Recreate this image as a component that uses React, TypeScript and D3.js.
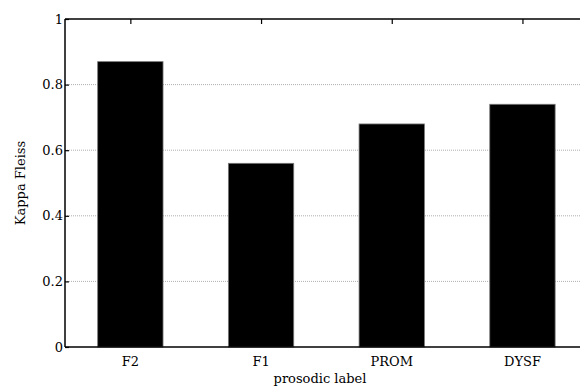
import React, { useRef, useEffect } from 'react';
import * as d3 from 'd3';

const categories = ['F2', 'F1', 'PROM', 'DYSF'];
const kappa = [0.87, 0.56, 0.68, 0.74];
const yTicks = [0, 0.2, 0.4, 0.6, 0.8, 1];

const width = 580;
const height = 390;
const font = '"DejaVu Serif", serif';

const App = () => {
    const svgRef = useRef<SVGSVGElement>(null);

    useEffect(() => {
        const svg = d3.select(svgRef.current);
        svg.selectAll('*').remove();

        const left = 65;
        const top = 19;
        const bottom = 347;
        const step = 130.7;

        // categories sit at 1..4, axis spans 0.5..4.5 (right edge is cut off)
        const xScale = d3.scaleLinear()
            .domain([0.5, 4.5])
            .range([left, left + step * 4]);

        const yScale = d3.scaleLinear()
            .domain([0, 1])
            .range([bottom, top]);

        // dotted grid
        svg.append('g')
            .selectAll('line')
            .data(yTicks.filter(t => t > 0 && t < 1))
            .join('line')
            .attr('x1', left)
            .attr('x2', width)
            .attr('y1', d => yScale(d))
            .attr('y2', d => yScale(d))
            .attr('stroke', '#999')
            .attr('stroke-width', 0.8)
            .attr('stroke-dasharray', '1,1');

        // bars
        const barW = step / 2;
        svg.append('g')
            .selectAll('rect')
            .data(kappa)
            .join('rect')
            .attr('x', (d, i) => xScale(i + 1) - barW / 2)
            .attr('y', d => yScale(d))
            .attr('width', barW)
            .attr('height', d => yScale(0) - yScale(d))
            .attr('fill', '#000')
            .attr('stroke', '#777')
            .attr('stroke-width', 0.8);

        // frame lines
        svg.append('line')
            .attr('x1', left).attr('x2', width)
            .attr('y1', top).attr('y2', top)
            .attr('stroke', '#000').attr('stroke-width', 1.5);
        svg.append('line')
            .attr('x1', left).attr('x2', width)
            .attr('y1', bottom).attr('y2', bottom)
            .attr('stroke', '#000').attr('stroke-width', 1.5);
        svg.append('line')
            .attr('x1', left).attr('x2', left)
            .attr('y1', top).attr('y2', bottom)
            .attr('stroke', '#000').attr('stroke-width', 1.5);

        // y ticks inward
        const yAxis = d3.axisRight(yScale)
            .tickValues(yTicks)
            .tickSize(4)
            .tickFormat(() => '');
        const ya = svg.append('g')
            .attr('transform', `translate(${left},0)`)
            .call(yAxis);
        ya.select('.domain').remove();
        ya.selectAll('line').attr('stroke', '#000').attr('stroke-width', 1.2);

        svg.append('g')
            .selectAll('text')
            .data(yTicks)
            .join('text')
            .attr('x', left - 2)
            .attr('y', d => yScale(d))
            .attr('dy', '0.35em')
            .attr('text-anchor', 'end')
            .style('font-family', font)
            .style('font-size', '13px')
            .attr('fill', '#000')
            .text(d => d3.format('~g')(d));

        // top ticks inward
        const xTop = d3.axisBottom(xScale)
            .tickValues([1, 2, 3, 4])
            .tickSize(5)
            .tickFormat(() => '');
        const xt = svg.append('g')
            .attr('transform', `translate(0,${top})`)
            .call(xTop);
        xt.select('.domain').remove();
        xt.selectAll('line').attr('stroke', '#000').attr('stroke-width', 1.2);

        // x labels
        svg.append('g')
            .selectAll('text')
            .data(categories)
            .join('text')
            .attr('x', (d, i) => xScale(i + 1))
            .attr('y', bottom + 19)
            .attr('text-anchor', 'middle')
            .style('font-family', font)
            .style('font-size', '13px')
            .attr('fill', '#000')
            .text(d => d);

        svg.append('text')
            .attr('x', 320)
            .attr('y', 383)
            .attr('text-anchor', 'middle')
            .style('font-family', font)
            .style('font-size', '13px')
            .text('prosodic label');

        svg.append('text')
            .attr('transform', `translate(25,${(top + bottom) / 2}) rotate(-90)`)
            .attr('text-anchor', 'middle')
            .style('font-family', font)
            .style('font-size', '13px')
            .text('Kappa Fleiss');
    }, []);

    return (
        <div style={{ position: 'absolute', left: 0, top: 0 }}>
            <svg ref={svgRef} width={width} height={height} style={{ display: 'block', background: '#fff' }} />
        </div>
    );
};

export default App;
